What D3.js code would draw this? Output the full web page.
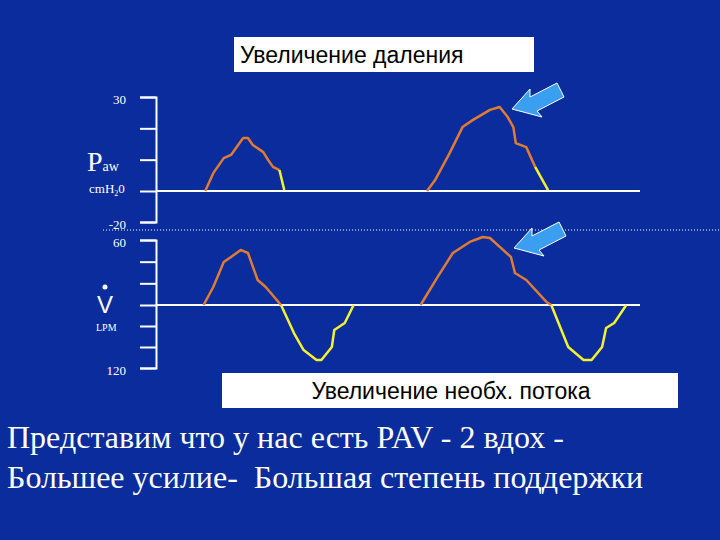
<!DOCTYPE html>
<html><head><meta charset="utf-8">
<script src="https://cdn.jsdelivr.net/npm/d3@7"></script>
<style>body{margin:0;background:#0b2c9c;} text{white-space:pre;}</style>
</head><body>
<script>
// time in s, pressure cmH2O, flow LPM
var pawInsp1T = [0.61,0.71,0.84,0.93,1.08,1.14,1.20,1.33,1.39,1.45,1.53];
var pawInsp1V = [0,5.7,10.5,11.5,16.9,16.9,14.7,12.4,9.9,7.7,6.7];
var pawExp1T = [1.53,1.59];
var pawExp1V = [6.7,0.3];
var pawInsp2T = [3.36,3.46,3.64,3.80,3.93,4.14,4.26,4.36,4.43,4.46,4.59,4.70];
var pawInsp2V = [0,3.5,12.1,20.4,22.7,25.9,26.8,23.6,20.4,15.3,14.0,7.7];
var pawExp2T = [4.70,4.86];
var pawExp2V = [7.7,0.3];

var flowInsp1T = [0.59,0.71,0.84,0.93,1.05,1.14,1.26,1.36,1.55];
var flowInsp1V = [0,16.6,39.7,44.3,50.8,48,23.1,16.6,0];
var flowExp1T = [1.55,1.71,1.83,1.99,2.05,2.18,2.21,2.34,2.45];
var flowExp1V = [0,-26.7,-42.9,-52.4,-52.4,-40,-23.8,-17.1,0];
var flowInsp2T = [3.28,3.49,3.68,3.89,4.05,4.14,4.40,4.45,4.59,4.84,4.90];
var flowInsp2V = [0,25.8,48,58.2,62.8,61.8,44.3,29.5,23.1,2.8,0];
var flowExp2T = [4.90,5.11,5.30,5.40,5.53,5.58,5.68,5.83];
var flowExp2V = [0,-40,-52.4,-52.4,-40,-21.9,-17.1,0];

var pawTicks = [30,20,10,0,-20];
var pawTickLabels = ['30','','','','-20'];
var flowTicks = [60,40,20,0,-20,-40,-60];
var flowTickLabels = ['60','','','','','','120'];

var W = 720, H = 540;
var svg = d3.select("body").append("svg").attr("width",W).attr("height",H);

const x = d3.scaleLinear().domain([0,6]).range([156,640]);
const yP = d3.scaleLinear().domain([-20,0,30]).range([222,191,97]);
const yF = d3.scaleLinear().domain([-60,0,60]).range([368,305,240]);

var serif = "Liberation Serif";

function axis(scale, ticks, labels) {
    var g = svg.append("g").attr("transform","translate(156,0)")
        .call(d3.axisLeft(scale).tickValues(ticks).tickSize(16).tickFormat(function(d,i){ return labels[i]; }));
    g.attr("font-family", serif).attr("font-size", 13);
    g.select(".domain").attr("stroke","#fff").attr("stroke-width",2);
    g.selectAll(".tick line").attr("stroke","#fff").attr("stroke-width",2);
    g.selectAll(".tick text").attr("fill","#fff").attr("x",-30).attr("dy","0.5em");
}
axis(yP, pawTicks, pawTickLabels);
axis(yF, flowTicks, flowTickLabels);

// baselines
svg.append("line").attr("x1",x(0)).attr("x2",x(6)).attr("y1",yP(0)).attr("y2",yP(0)).attr("stroke","#fff").attr("stroke-width",2);
svg.append("line").attr("x1",x(0)).attr("x2",x(6)).attr("y1",yF(0)).attr("y2",yF(0)).attr("stroke","#fff").attr("stroke-width",2);
svg.append("line").attr("x1",103).attr("x2",720).attr("y1",230).attr("y2",230).attr("stroke","#fff").attr("stroke-width",1).attr("stroke-dasharray","1,2");

function curve(ts, vs, ys, color) {
    var line = d3.line().x(function(d,i){ return x(ts[i]); }).y(function(d){ return ys(d); });
    svg.append("path").attr("d", line(vs)).attr("fill","none").attr("stroke",color)
        .attr("stroke-width",2.5).attr("stroke-linejoin","round");
}
var orange = "#e07b33", yellow = "#f2f230";
curve(pawInsp1T, pawInsp1V, yP, orange);
curve(pawExp1T, pawExp1V, yP, yellow);
curve(pawInsp2T, pawInsp2V, yP, orange);
curve(pawExp2T, pawExp2V, yP, yellow);
curve(flowInsp1T, flowInsp1V, yF, orange);
curve(flowExp1T, flowExp1V, yF, yellow);
curve(flowInsp2T, flowInsp2V, yF, orange);
curve(flowExp2T, flowExp2V, yF, yellow);

// arrows
function arrow(tx, ty) {
    var pts = [[0,0],[18,-20],[18,-12],[45,-26],[52,-12],[25,2],[30,8]];
    svg.append("polygon").attr("points", pts.map(function(p){ return (tx+p[0])+","+(ty+p[1]); }).join(" "))
        .attr("fill","#3a9ff0").attr("stroke","#fff").attr("stroke-width",1);
}
arrow(512,109);
arrow(514,248);

// left labels
svg.append("text").attr("x",87).attr("y",171).attr("fill","#fff").attr("font-family",serif).attr("font-size",28).text("P")
    .append("tspan").attr("font-size",14).text("aw");
var cm = svg.append("text").attr("x",89).attr("y",193).attr("fill","#fff").attr("font-family",serif).attr("font-size",13).text("cmH");
cm.append("tspan").attr("font-size",8).attr("dy",3).text("2");
cm.append("tspan").attr("dy",-3).text("0");
svg.append("text").attr("x",97).attr("y",313).attr("fill","#fff").attr("font-family","Liberation Sans").attr("font-size",24).text("V");
svg.append("circle").attr("cx",105).attr("cy",287).attr("r",2.5).attr("fill","#fff");
svg.append("text").attr("x",96).attr("y",331).attr("fill","#fff").attr("font-family",serif).attr("font-size",10).text("LPM");

// boxes
svg.append("rect").attr("x",234).attr("y",37).attr("width",300).attr("height",35).attr("fill","#fff");
svg.append("text").attr("x",240).attr("y",63).attr("font-family","Liberation Sans").attr("font-size",23).attr("fill","#000").text("Увеличение даления");
svg.append("rect").attr("x",222).attr("y",373).attr("width",456).attr("height",35).attr("fill","#fff");
svg.append("text").attr("x",451).attr("y",399).attr("text-anchor","middle").attr("font-family","Liberation Sans").attr("font-size",23).attr("fill","#000").text("Увеличение необх. потока");

svg.append("text").attr("x",7).attr("y",448).attr("fill","#fff").attr("font-family",serif).attr("font-size",32).text("Представим что у нас есть PAV - 2 вдох -");
svg.append("text").attr("x",7).attr("y",488).attr("fill","#fff").attr("font-family",serif).attr("font-size",32).text("Большее усилие-  Большая степень поддержки");
</script>
</body></html>
